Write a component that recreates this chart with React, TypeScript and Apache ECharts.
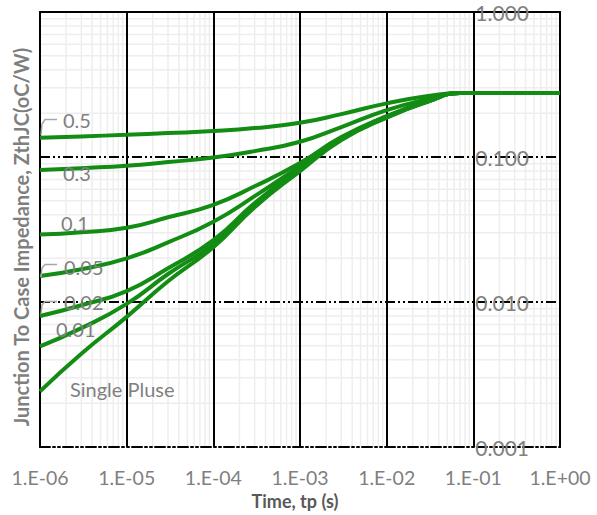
import React, { useEffect, useRef } from "react";
import * as echarts from "echarts";

// Time points (s)
const T = [1e-6, 3e-6, 1e-5, 3e-5, 1e-4, 3e-4, 1e-3, 3e-3, 1e-2, 3e-2, 7e-2, 1];
// Zth (oC/W) per duty cycle curve
const D05 = [0.1357, 0.1387, 0.1423, 0.1462, 0.1509, 0.1582, 0.1722, 0.1977, 0.2344, 0.2632, 0.276, 0.276];
const D03 = [0.0812, 0.0838, 0.087, 0.0922, 0.0991, 0.1098, 0.1273, 0.1608, 0.2107, 0.2509, 0.276, 0.276];
const D01 = [0.0292, 0.0303, 0.0325, 0.0384, 0.0468, 0.0628, 0.0908, 0.1372, 0.1915, 0.243, 0.276, 0.276];
const D005 = [0.0151, 0.0168, 0.02, 0.0258, 0.0358, 0.0537, 0.0866, 0.135, 0.19, 0.2425, 0.276, 0.276];
const D002 = [0.008, 0.0095, 0.0119, 0.0171, 0.0267, 0.0481, 0.0838, 0.1329, 0.1885, 0.242, 0.276, 0.276];
const D001 = [0.00495, 0.0066, 0.0097, 0.0156, 0.0251, 0.0466, 0.0825, 0.1318, 0.1885, 0.2415, 0.276, 0.276];
const SINGLE = [0.00242, 0.0044, 0.0079, 0.0139, 0.0239, 0.0451, 0.0799, 0.1308, 0.187, 0.2411, 0.276, 0.276];

const CURVES = [D05, D03, D01, D005, D002, D001, SINGLE];
const CURVE_NAMES = ["0.5", "0.3", "0.1", "0.05", "0.02", "0.01", "Single Pluse"];

const X_TICK_LABELS = ["1.E-06", "1.E-05", "1.E-04", "1.E-03", "1.E-02", "1.E-01", "1.E+00"];
const Y_TICK_LABELS = ["0.001", "0.010", "0.100", "1.000"];
const X_TITLE = "Time, tp (s)";
const Y_TITLE = "Junction To Case Impedance, ZthJC(oC/W)";

const X_MIN = 1e-6, X_MAX = 1, Y_MIN = 1e-3, Y_MAX = 1;
const MANTISSAS = [2, 3, 4, 5, 6, 7, 8, 9];

const FONT = "Lato, 'Open Sans', sans-serif";
const GREEN = "#138c13";
const GRAY = "#7f7f7f";
const DASH = [10, 3, 2, 3, 2, 3];

function minorGridData(axis: "x" | "y") {
  const data: any[] = [];
  const lo = axis === "x" ? -6 : -3;
  for (let d = lo; d < 0; d++) {
    for (const m of MANTISSAS) {
      const v = m * Math.pow(10, d);
      if (axis === "x") {
        data.push([v, Y_MIN], [v, Y_MAX], [v, "-"]);
      } else {
        data.push([X_MIN, v], [X_MAX, v], ["-", v]);
      }
    }
  }
  return data;
}

export default function App() {
  const ref = useRef<HTMLDivElement>(null);
  useEffect(() => {
    if (!ref.current) return;
    const chart = echarts.init(ref.current, undefined, { renderer: "svg" });

    const curveSeries = CURVES.map((vals, i) => ({
      name: CURVE_NAMES[i],
      type: "line",
      data: T.map((t, j) => [t, vals[j]]),
      smooth: 0.5,
      showSymbol: false,
      symbol: "none",
      silent: true,
      z: 3,
      lineStyle: { color: GREEN, width: 4 },
    }));

    const minorStyle = { color: "#eeeeee", width: 1.5 };

    const labelPos: [number, number][] = [
      [63, 120],
      [63, 173],
      [61, 223],
      [64, 267],
      [64, 302],
      [56, 329],
      [70, 389],
    ];

    const leaders = [
      [[41, 135], [42, 124], [45, 119.5], [57, 119.5]],
      [[41, 277], [42, 268], [45, 264.5], [57, 264.5]],
      [[41, 314], [42, 305], [45, 301.5], [57, 301.5]],
    ];

    chart.setOption({
      animation: false,
      backgroundColor: "#ffffff",
      grid: { left: 40, top: 12, right: 37, bottom: 68, show: false },
      xAxis: [
        {
          type: "log",
          logBase: 10,
          min: X_MIN,
          max: X_MAX,
          position: "bottom",
          axisLine: { show: true, lineStyle: { color: "#000", width: 2, type: DASH } },
          axisTick: { show: false },
          axisLabel: {
            color: GRAY,
            fontSize: 19.5,
            lineHeight: 20,
            fontFamily: FONT,
            margin: 20,
            formatter: (v: number) => X_TICK_LABELS[Math.round(Math.log10(v)) + 6],
          },
          splitLine: { show: true, lineStyle: { color: "#000", width: 2 } },
        },
        {
          type: "log",
          logBase: 10,
          min: X_MIN,
          max: X_MAX,
          position: "top",
          axisLine: { show: true, lineStyle: { color: "#000", width: 2 } },
          axisTick: { show: false },
          axisLabel: { show: false },
          splitLine: { show: false },
        },
      ],
      yAxis: [
        {
          type: "log",
          logBase: 10,
          min: Y_MIN,
          max: Y_MAX,
          position: "right",
          axisLine: { show: true, lineStyle: { color: "#000", width: 2 } },
          axisTick: { show: false },
          axisLabel: {
            inside: true,
            margin: 31,
            color: GRAY,
            fontSize: 21,
            fontFamily: FONT,
            formatter: (v: number) => Y_TICK_LABELS[Math.round(Math.log10(v)) + 3],
          },
          splitLine: { show: true, lineStyle: { color: "#000", width: 2, type: DASH } },
        },
        {
          type: "log",
          logBase: 10,
          min: Y_MIN,
          max: Y_MAX,
          position: "left",
          axisLine: { show: true, lineStyle: { color: "#000", width: 2 } },
          axisTick: { show: false },
          axisLabel: { show: false },
          splitLine: { show: false },
        },
      ],
      series: [
        {
          name: "minorX",
          type: "line",
          data: minorGridData("x"),
          showSymbol: false,
          symbol: "none",
          silent: true,
          connectNulls: false,
          z: -1,
          lineStyle: minorStyle,
        },
        {
          name: "minorY",
          type: "line",
          data: minorGridData("y"),
          showSymbol: false,
          symbol: "none",
          silent: true,
          connectNulls: false,
          z: -1,
          lineStyle: minorStyle,
        },
        ...curveSeries,
      ],
      graphic: [
        ...leaders.map((pts) => ({
          type: "polyline",
          shape: { points: pts },
          style: { stroke: "#a6a6a6", lineWidth: 1.5, fill: null },
          silent: true,
          z: 10,
        })),
        ...CURVE_NAMES.map((name, i) => ({
          type: "text",
          x: labelPos[i][0],
          y: labelPos[i][1],
          silent: true,
          z: 10,
          style: {
            text: name,
            fill: GRAY,
            fontSize: 20,
            fontFamily: FONT,
            align: "left",
            verticalAlign: "middle",
          },
        })),
        {
          type: "text",
          x: 295,
          y: 500.5,
          silent: true,
          style: {
            text: X_TITLE,
            fill: "#595959",
            fontSize: 18,
            fontWeight: "bold",
            fontFamily: FONT,
            align: "center",
            verticalAlign: "middle",
          },
        },
        {
          type: "text",
          x: 21,
          y: 237,
          rotation: Math.PI / 2,
          silent: true,
          style: {
            text: Y_TITLE,
            fill: GRAY,
            fontSize: 20,
            fontWeight: "bold",
            fontFamily: FONT,
            align: "center",
            verticalAlign: "middle",
          },
        },
      ],
    });
    return () => chart.dispose();
  }, []);
  return (
    <div
      ref={ref}
      style={{ position: "fixed", left: 0, top: 0, width: 597, height: 515, background: "#fff" }}
    />
  );
}
